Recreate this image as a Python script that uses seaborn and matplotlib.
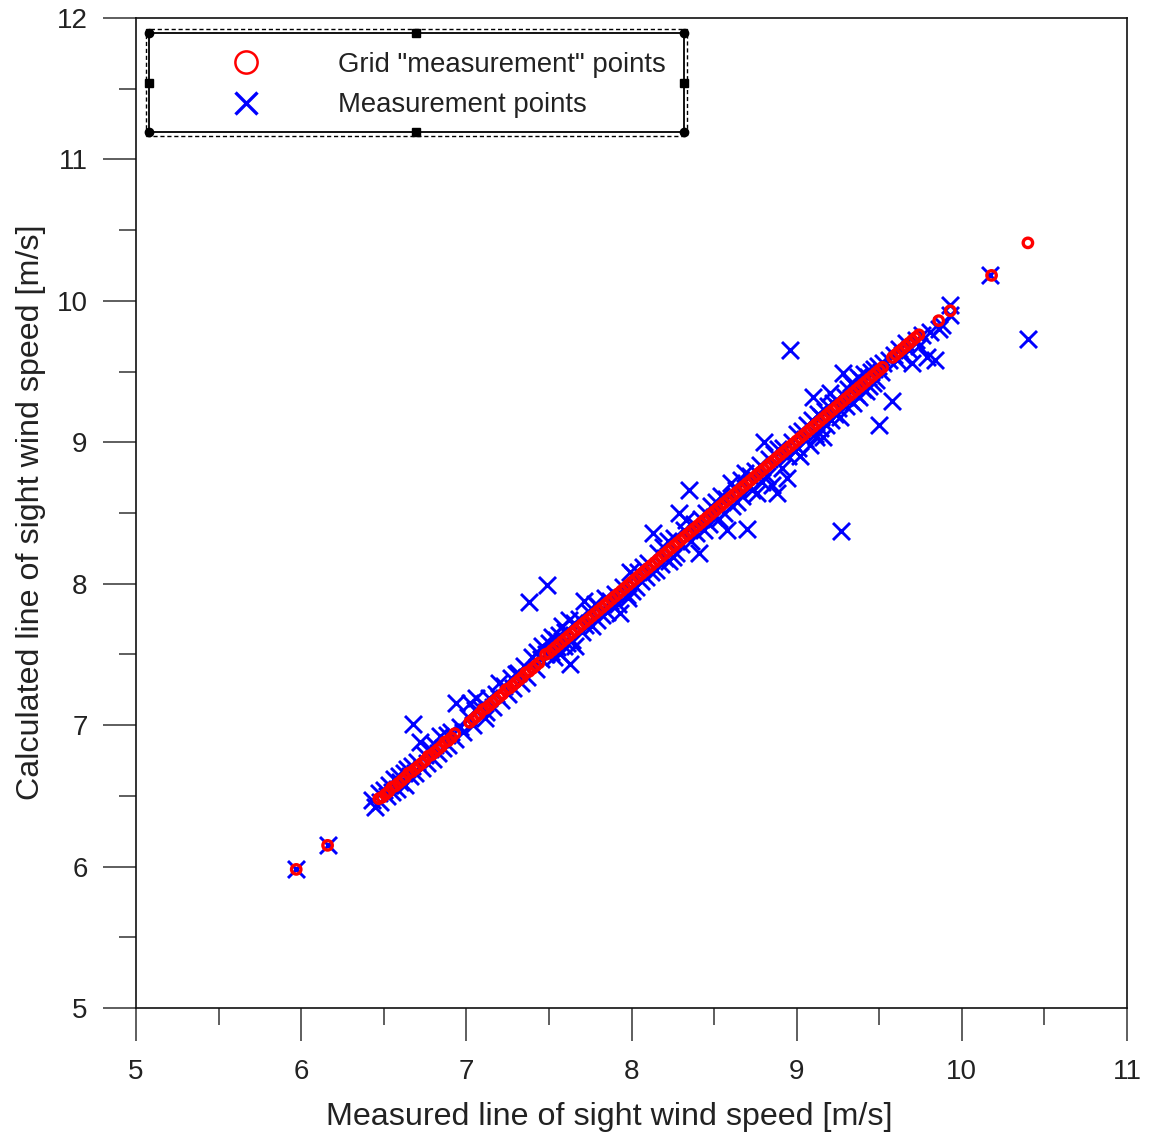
import matplotlib
matplotlib.use("Agg")
import matplotlib.pyplot as plt
from matplotlib.lines import Line2D
from matplotlib.patches import Rectangle
from matplotlib.ticker import MultipleLocator
import seaborn as sns

sns.set_style("ticks")
plt.rcParams["font.family"] = ["Liberation Sans", "DejaVu Sans"]

# Measured vs calculated line-of-sight wind speed [m/s] at the measurement points
meas_measured = [
    5.97, 6.16,
    6.43, 6.45, 6.47, 6.48, 6.50, 6.52, 6.53, 6.55, 6.56, 6.58, 6.59, 6.60, 6.62, 6.63, 6.64, 6.66, 6.67, 6.68, 6.69, 6.70,
    6.72, 6.73, 6.75, 6.76, 6.78, 6.80, 6.81, 6.83, 6.84, 6.86, 6.88, 6.89, 6.91, 6.93, 6.94, 6.96, 6.98,
    7.01, 7.02, 7.04, 7.05, 7.06, 7.08, 7.10, 7.11, 7.12, 7.14, 7.16, 7.18, 7.20, 7.21, 7.23, 7.25, 7.27, 7.28, 7.30, 7.31,
    7.33, 7.35, 7.37, 7.38, 7.40, 7.42, 7.43, 7.45, 7.46, 7.48, 7.49,
    7.50, 7.51, 7.52, 7.53, 7.54, 7.55, 7.56, 7.57, 7.58, 7.59, 7.60, 7.61, 7.62, 7.63, 7.64, 7.65, 7.66, 7.68, 7.70, 7.71,
    7.72, 7.74, 7.76, 7.78, 7.79, 7.80, 7.82, 7.84, 7.85, 7.87, 7.89, 7.90, 7.92, 7.93, 7.95, 7.97, 7.98, 7.99,
    8.00, 8.01, 8.03, 8.04, 8.06, 8.07, 8.09, 8.10, 8.12, 8.13, 8.15, 8.16, 8.18, 8.19, 8.20, 8.22, 8.23, 8.25, 8.26, 8.27,
    8.29, 8.30, 8.32, 8.33, 8.35, 8.36, 8.38, 8.39, 8.41, 8.42, 8.44, 8.45, 8.47, 8.48, 8.50,
    8.51, 8.53, 8.54, 8.56, 8.57, 8.58, 8.60, 8.61, 8.63, 8.64, 8.66, 8.67, 8.69, 8.70, 8.72, 8.73, 8.75, 8.76, 8.78, 8.79,
    8.80, 8.82, 8.83, 8.85, 8.86, 8.88, 8.89, 8.91, 8.92, 8.94, 8.95, 8.96, 8.97, 8.99,
    9.00, 9.01, 9.02, 9.03, 9.05, 9.06, 9.08, 9.09, 9.10, 9.11, 9.12, 9.13, 9.14, 9.15, 9.16, 9.17, 9.18, 9.19, 9.20, 9.21,
    9.22, 9.23, 9.24, 9.25, 9.26, 9.27, 9.28, 9.29, 9.30, 9.31, 9.32, 9.33, 9.34, 9.35, 9.36, 9.37, 9.38, 9.39, 9.40, 9.41,
    9.42, 9.43, 9.44, 9.45, 9.46, 9.47, 9.48, 9.49, 9.50, 9.51, 9.52,
    9.56, 9.58, 9.59, 9.61, 9.62, 9.64, 9.66, 9.68, 9.70, 9.72, 9.74, 9.76, 9.79, 9.81, 9.84, 9.86, 9.88, 9.93, 9.93,
    10.17, 10.40,
]
meas_calculated = [
    5.98, 6.15,
    6.47, 6.42, 6.52, 6.46, 6.54, 6.50, 6.58, 6.53, 6.62, 6.55, 6.64, 6.60, 6.66, 6.58, 6.69, 6.64, 6.71, 7.01, 6.66, 6.74,
    6.88, 6.70, 6.79, 6.73, 6.83, 6.76, 6.86, 6.80, 6.92, 6.84, 6.93, 6.86, 6.95, 6.90, 7.16, 6.99, 6.95,
    7.06, 7.16, 7.00, 7.11, 7.19, 7.12, 7.15, 7.05, 7.09, 7.19, 7.13, 7.22, 7.30, 7.18, 7.28, 7.22, 7.33, 7.26, 7.36, 7.37,
    7.30, 7.42, 7.34, 7.87, 7.48, 7.40, 7.52, 7.47, 7.56, 7.50, 7.99,
    7.58, 7.52, 7.62, 7.48, 7.60, 7.55, 7.64, 7.50, 7.70, 7.56, 7.66, 7.58, 7.74, 7.43, 7.60, 7.72, 7.56, 7.75, 7.66, 7.88,
    7.71, 7.80, 7.70, 7.86, 7.74, 7.84, 7.78, 7.90, 7.80, 7.88, 7.84, 7.93, 7.86, 7.79, 7.98, 7.92, 7.90, 8.08,
    7.95, 8.06, 7.98, 8.08, 8.02, 8.12, 8.05, 8.15, 8.08, 8.36, 8.10, 8.22, 8.14, 8.26, 8.18, 8.30, 8.16, 8.19, 8.32, 8.22,
    8.50, 8.28, 8.38, 8.45, 8.66, 8.30, 8.42, 8.36, 8.22, 8.46, 8.38, 8.50, 8.42, 8.55, 8.47,
    8.58, 8.46, 8.62, 8.50, 8.60, 8.38, 8.71, 8.55, 8.66, 8.58, 8.73, 8.62, 8.78, 8.39, 8.76, 8.66, 8.80, 8.64, 8.84, 8.72,
    9.00, 8.76, 8.88, 8.70, 8.92, 8.64, 8.95, 8.82, 8.96, 8.75, 8.90, 9.65, 9.00, 8.94,
    9.06, 8.96, 8.90, 9.08, 9.02, 9.12, 8.98, 9.16, 9.32, 9.06, 9.04, 9.20, 9.10, 9.18, 9.04, 9.22, 9.12, 9.26, 9.35, 9.16,
    9.28, 9.20, 9.30, 9.24, 9.18, 8.37, 9.49, 9.32, 9.26, 9.38, 9.30, 9.42, 9.28, 9.40, 9.34, 9.46, 9.32, 9.44, 9.38, 9.48,
    9.36, 9.46, 9.40, 9.50, 9.42, 9.52, 9.44, 9.54, 9.12, 9.50, 9.56,
    9.58, 9.29, 9.62, 9.58, 9.66, 9.62, 9.70, 9.65, 9.56, 9.72, 9.68, 9.76, 9.60, 9.78, 9.58, 9.80, 9.83, 9.97, 9.90,
    10.18, 9.73,
]

# Grid "measurement" points (model sampled on the grid)
grid_measured = [
    5.97, 6.16,
    6.47, 6.49, 6.51, 6.53, 6.55, 6.57, 6.59, 6.61, 6.63, 6.65, 6.67, 6.69, 6.71, 6.73, 6.75, 6.77, 6.79, 6.81, 6.83, 6.85,
    6.87, 6.89, 6.91, 6.93,
    7.02, 7.04, 7.06, 7.08, 7.10, 7.12, 7.14, 7.16, 7.18, 7.20, 7.22, 7.24, 7.26, 7.28, 7.30, 7.32, 7.34, 7.36, 7.38, 7.40,
    7.42, 7.44, 7.48, 7.50, 7.52, 7.54, 7.56, 7.58, 7.60, 7.62, 7.64, 7.66, 7.68, 7.70, 7.72, 7.74, 7.76, 7.78, 7.80, 7.82,
    7.84, 7.86, 7.88, 7.90, 7.92, 7.94, 7.96, 7.98,
    8.00, 8.02, 8.04, 8.06, 8.08, 8.10, 8.12, 8.14, 8.16, 8.18, 8.20, 8.22, 8.24, 8.26, 8.28, 8.30, 8.32, 8.34, 8.36, 8.38,
    8.40, 8.42, 8.44, 8.46, 8.48, 8.50, 8.52, 8.54, 8.56, 8.58, 8.60, 8.62, 8.64, 8.66, 8.68, 8.70, 8.72, 8.74, 8.76, 8.78,
    8.80, 8.82, 8.84, 8.86, 8.88, 8.90, 8.92, 8.94, 8.96, 8.98,
    9.00, 9.02, 9.04, 9.06, 9.08, 9.10, 9.12, 9.14, 9.16, 9.18, 9.20, 9.22, 9.24, 9.26, 9.28, 9.30, 9.32, 9.34, 9.36, 9.38,
    9.40, 9.42, 9.44, 9.46, 9.48, 9.50, 9.52,
    9.58, 9.60, 9.62, 9.64, 9.66, 9.68, 9.70, 9.72, 9.74,
    9.86, 9.93, 10.18, 10.40,
]
grid_calculated = [
    5.98, 6.15,
    6.48, 6.49, 6.51, 6.53, 6.56, 6.57, 6.59, 6.61, 6.63, 6.66, 6.67, 6.69, 6.71, 6.73, 6.75, 6.78, 6.79, 6.81, 6.83, 6.85,
    6.88, 6.89, 6.91, 6.94,
    7.02, 7.04, 7.06, 7.08, 7.11, 7.12, 7.14, 7.16, 7.18, 7.20, 7.22, 7.25, 7.26, 7.28, 7.30, 7.32, 7.34, 7.37, 7.38, 7.40,
    7.42, 7.44, 7.50, 7.51, 7.53, 7.55, 7.57, 7.59, 7.61, 7.63, 7.65, 7.67, 7.69, 7.71, 7.73, 7.75, 7.77, 7.79, 7.81, 7.83,
    7.85, 7.87, 7.89, 7.91, 7.93, 7.95, 7.97, 7.99,
    8.01, 8.03, 8.05, 8.07, 8.09, 8.11, 8.13, 8.15, 8.17, 8.19, 8.21, 8.23, 8.25, 8.27, 8.29, 8.31, 8.33, 8.35, 8.37, 8.39,
    8.41, 8.43, 8.45, 8.47, 8.49, 8.51, 8.53, 8.55, 8.57, 8.59, 8.61, 8.63, 8.65, 8.67, 8.69, 8.71, 8.73, 8.75, 8.77, 8.79,
    8.81, 8.83, 8.85, 8.87, 8.89, 8.91, 8.93, 8.95, 8.97, 8.99,
    9.01, 9.03, 9.05, 9.07, 9.09, 9.11, 9.13, 9.15, 9.17, 9.19, 9.21, 9.23, 9.25, 9.27, 9.29, 9.31, 9.33, 9.35, 9.37, 9.39,
    9.41, 9.43, 9.45, 9.47, 9.49, 9.51, 9.53,
    9.60, 9.62, 9.64, 9.66, 9.68, 9.70, 9.72, 9.74, 9.76,
    9.86, 9.93, 10.18, 10.41,
]

x_ticks = [5, 6, 7, 8, 9, 10, 11]
y_ticks = [5, 6, 7, 8, 9, 10, 11, 12]
legend_labels = ['Grid "measurement" points', "Measurement points"]

W, H = 1149, 1138
fig = plt.figure(figsize=(W / 100, H / 100), dpi=100)
ax_l, ax_r, ax_t, ax_b = 136, 1127, 18, 1008
ax = fig.add_axes([ax_l / W, 1 - ax_b / H, (ax_r - ax_l) / W, (ax_b - ax_t) / H])

sns.scatterplot(x=meas_measured, y=meas_calculated, marker="x", color="#0000ff",
                s=150, linewidth=2.1, ax=ax, zorder=2, legend=False)
sns.scatterplot(x=grid_measured, y=grid_calculated, marker="o", color="#ff0000",
                facecolors="none", edgecolors="#ff0000", s=46, linewidth=2.4,
                ax=ax, zorder=3, legend=False)

ax.set_xlim(x_ticks[0], x_ticks[-1])
ax.set_ylim(y_ticks[0], y_ticks[-1])
ax.set_xticks(x_ticks)
ax.set_yticks(y_ticks)
ax.xaxis.set_minor_locator(MultipleLocator(0.5))
ax.yaxis.set_minor_locator(MultipleLocator(0.5))
ax.tick_params(which="major", direction="out", length=23.8, width=1.1, color="#333333",
               labelsize=20, labelcolor="#222222")
ax.tick_params(axis="x", which="major", pad=13)
ax.tick_params(axis="y", which="major", pad=11)
ax.tick_params(which="minor", direction="out", length=12.2, width=1.1, color="#333333")
ax.tick_params(top=False, right=False, which="both")
for sp in ax.spines.values():
    sp.set_visible(True)
    sp.set_linewidth(1.2)
    sp.set_color("#111111")

ax.set_xlabel("Measured line of sight wind speed [m/s]", fontsize=23.2, color="#222222")
ax.set_ylabel("Calculated line of sight wind speed [m/s]", fontsize=23.2, color="#222222")
ax.xaxis.set_label_coords(0.478, -0.095)
ax.yaxis.set_label_coords(-0.091, 0.501)


def axfrac(px, py):
    return (px - ax_l) / (ax_r - ax_l), (ax_b - py) / (ax_b - ax_t)


# Legend entries
h_grid = Line2D([], [], ls="none", marker="o", ms=16, mfc="none", mec="#ff0000", mew=1.8)
h_meas = Line2D([], [], ls="none", marker="x", ms=15.5, mec="#0000ff", mew=2.4)
lx, ly = axfrac(219.6, 52)
ax.legend([h_grid, h_meas], legend_labels, loc="upper left", bbox_to_anchor=(lx, ly),
          frameon=False, fontsize=19.8, handlelength=1.92, handletextpad=2.4,
          borderpad=0, borderaxespad=0, labelspacing=0.52, labelcolor="#222222")

# Legend box with its selection frame and handles
x0, y0 = axfrac(149, 132)
x1, y1 = axfrac(684, 33)
ax.add_patch(Rectangle((x0, y0), x1 - x0, y1 - y0, transform=ax.transAxes, fill=False,
                       ec="black", lw=1.3, clip_on=False, zorder=6))
dx0, dy0 = axfrac(146, 136)
dx1, dy1 = axfrac(687, 29)
ax.add_patch(Rectangle((dx0, dy0), dx1 - dx0, dy1 - dy0, transform=ax.transAxes, fill=False,
                       ec="black", lw=1.0, ls=(0, (3, 2)), clip_on=False, zorder=6))
xm, ym = (x0 + x1) / 2, (y0 + y1) / 2
ax.plot([x0, x1, x0, x1], [y0, y0, y1, y1], ls="none", marker="o", ms=6, color="black",
        transform=ax.transAxes, clip_on=False, zorder=7)
ax.plot([xm, xm, x0, x1], [y0, y1, ym, ym], ls="none", marker="s", ms=5.5, color="black",
        transform=ax.transAxes, clip_on=False, zorder=7)

fig.savefig("out.png", dpi=100)
